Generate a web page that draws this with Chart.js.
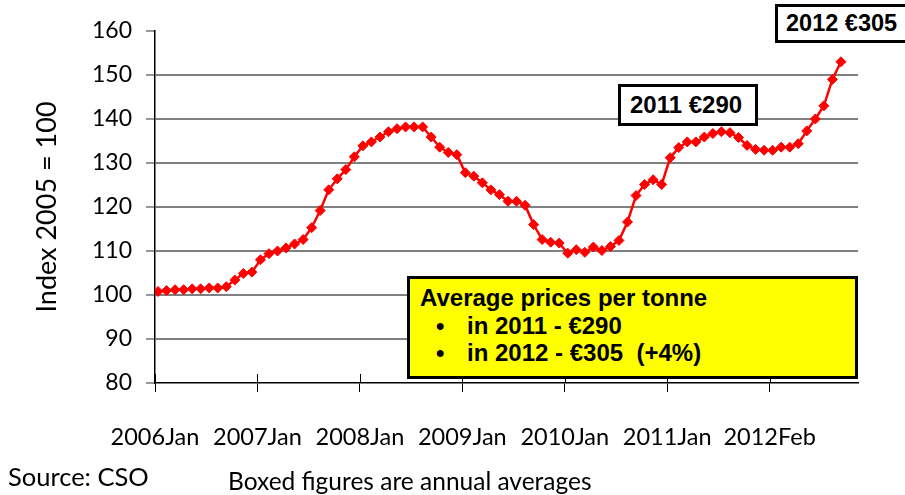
<!DOCTYPE html>
<html>
<head>
<meta charset="utf-8">
<script src="https://cdn.jsdelivr.net/npm/chart.js@4.4.1/dist/chart.umd.min.js"></script>
<style>
  html, body { margin: 0; padding: 0; background: #fff; }
  #wrap { position: relative; width: 905px; height: 495px; overflow: hidden; }
  #c { position: absolute; left: 0; top: 0; }
  .box { position: absolute; box-sizing: border-box; border: 3px solid #000; background: #fff;
         font-family: "Liberation Sans", Arial, sans-serif; font-weight: bold; color: #000; white-space: nowrap; }
  .lbl { position: absolute; font-family: Lato, "DejaVu Sans", sans-serif; color: #000; white-space: nowrap; line-height: 30px; }
  .bul { display: inline-block; width: 31px; margin-left: 26px; }
  .row { height: 27.5px; line-height: 27.5px; }
</style>
</head>
<body>
<div id="wrap">
  <canvas id="c" width="905" height="495"></canvas>
  <div class="box" style="left:775px; top:4px; width:140px; height:39px; font-size:23.5px; line-height:33px; padding-left:8px;">2012 €305</div>
  <div class="box" style="left:618px; top:84px; width:140px; height:42px; font-size:24px; line-height:36px; padding-left:9px;">2011 €290</div>
  <div class="box" style="left:407px; top:276px; width:451px; height:103px; background:#ffff00; font-size:24px; padding:5px 0 0 0;">
    <div class="row" style="padding-left:10px;">Average prices per tonne</div>
    <div class="row"><span class="bul">•</span>in 2011 - €290</div>
    <div class="row"><span class="bul">•</span>in 2012 - €305&nbsp;&nbsp;(+4%)</div>
  </div>
  <div class="lbl" style="left:8px; top:461px; font-size:25.5px;">Source: CSO</div>
  <div class="lbl" style="left:228px; top:466px; font-size:24.5px;">Boxed figures are annual averages</div>
</div>
<script>
// Monthly price index (2005 = 100), Jan 2006 .. Oct 2012
const indexValues = [
  100.8, 101.0, 101.2, 101.2, 101.4, 101.4, 101.6, 101.6, 101.9, 103.4, 104.9, 105.2,
  108.0, 109.4, 110.0, 110.7, 111.6, 112.6, 115.3, 119.2, 123.9, 126.4, 128.5, 131.4,
  133.9, 134.8, 135.9, 137.1, 137.8, 138.2, 138.2, 138.2, 135.9, 133.6, 132.4, 131.9,
  127.8, 127.0, 125.5, 123.9, 122.8, 121.3, 121.3, 120.4, 116.0, 112.6, 112.0, 111.8,
  109.5, 110.3, 109.7, 110.9, 110.1, 111.0, 112.4, 116.6, 122.6, 125.1, 126.2, 125.1,
  131.2, 133.5, 134.8, 134.8, 135.9, 136.7, 137.1, 136.9, 135.8, 134.0, 133.1, 132.9,
  132.9, 133.6, 133.6, 134.4, 137.3, 140.0, 143.0, 149.0, 153.0
];
const tickLabels = ["2006Jan", "2007Jan", "2008Jan", "2009Jan", "2010Jan", "2011Jan", "2012Feb"];
const ticksEvery = 12;
const yTicks = [80, 90, 100, 110, 120, 130, 140, 150, 160];

const points = indexValues.map((v, i) => ({ x: i, y: v }));
const startOffset = -0.35;

const crossTicks = {
  id: 'crossTicks',
  afterDraw(chart) {
    const ctx = chart.ctx, xs = chart.scales.x, bottom = chart.chartArea.bottom;
    ctx.save();
    ctx.strokeStyle = '#000';
    ctx.lineWidth = 1;
    xs.ticks.forEach(t => {
      const px = Math.round(xs.getPixelForValue(t.value)) + 0.5;
      ctx.beginPath();
      ctx.moveTo(px, bottom - 9);
      ctx.lineTo(px, bottom);
      ctx.stroke();
    });
    ctx.restore();
  }
};

new Chart(document.getElementById('c'), {
  type: 'line',
  data: {
    datasets: [{
      data: points,
      borderColor: '#ff0000',
      backgroundColor: '#ff0000',
      borderWidth: 2.5,
      pointStyle: 'rectRot',
      pointRadius: 5,
      pointBorderWidth: 1,
      tension: 0
    }]
  },
  options: {
    responsive: false,
    animation: false,
    layout: { padding: { left: 0, top: 31, right: 47, bottom: 0 } },
    plugins: { legend: { display: false }, tooltip: { enabled: false } },
    scales: {
      x: {
        type: 'linear',
        min: startOffset,
        max: 82,
        afterBuildTicks(scale) {
          scale.ticks = tickLabels.map((_, k) => ({ value: k * ticksEvery + startOffset }));
        },
        afterFit(scale) { scale.height = 112; },
        ticks: {
          autoSkip: false,
          maxRotation: 0,
          padding: 31,
          color: '#000',
          font: { family: 'Lato', size: 23.5 },
          callback(value) { return tickLabels[Math.round((value - startOffset) / ticksEvery)]; }
        },
        grid: { drawOnChartArea: false, tickLength: 9, color: '#000', tickWidth: 1 },
        border: { color: '#000', width: 1.5 }
      },
      y: {
        min: 80,
        max: 160,
        afterBuildTicks(scale) { scale.ticks = yTicks.map(v => ({ value: v })); },
        afterFit(scale) { scale.width = 155; },
        ticks: {
          padding: 14,
          color: '#000',
          font: { family: 'Lato', size: 23 }
        },
        grid: {
          tickLength: 9,
          lineWidth: 2,
          color: ctx => (ctx.tick && (ctx.tick.value === 160 || ctx.tick.value === 80)) ? 'rgba(0,0,0,0)' : '#808080',
          tickColor: '#333',
          tickWidth: 1
        },
        border: { color: '#000', width: 1.5 },
        title: {
          display: true,
          text: 'Index 2005 = 100',
          color: '#000',
          font: { family: 'Lato', size: 27 },
          padding: { top: 31, bottom: 0 }
        }
      }
    }
  },
  plugins: [crossTicks]
});
</script>
</body>
</html>
